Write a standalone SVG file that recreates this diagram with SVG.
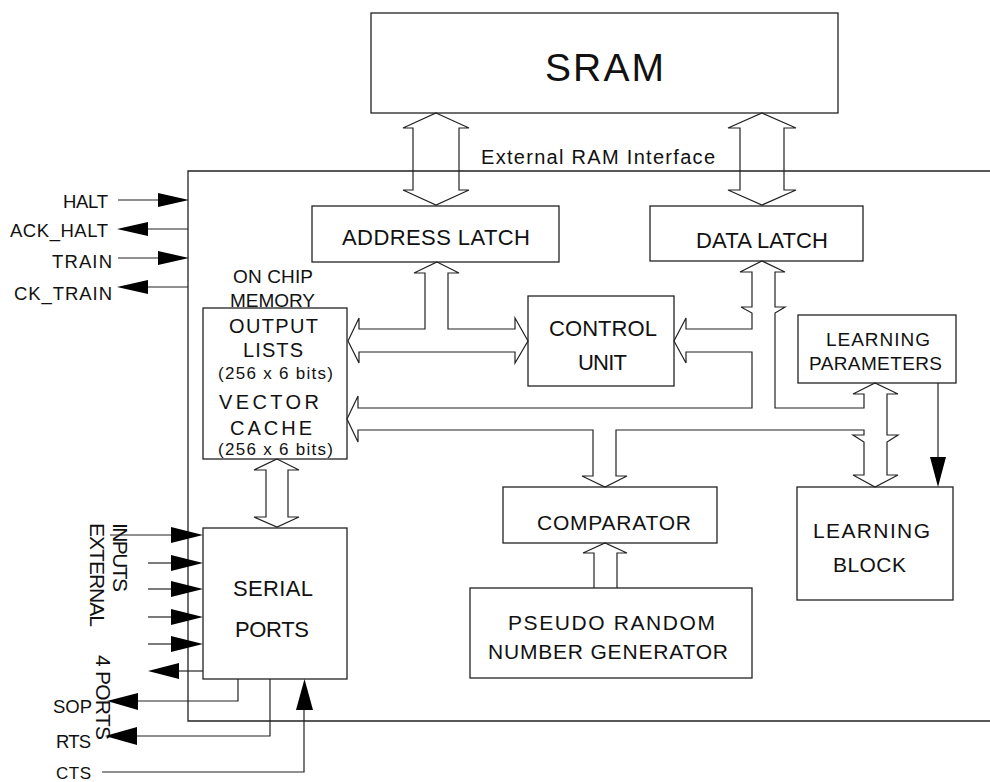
<svg xmlns="http://www.w3.org/2000/svg" width="990" height="782" viewBox="0 0 990 782">
<style>
.box{fill:none;stroke:#222;stroke-width:1.3}
.ln{fill:none;stroke:#222;stroke-width:1.2;stroke-linejoin:miter}
.hd{fill:#000;stroke:none}
.t{font-family:"Liberation Sans",Arial,sans-serif;fill:#111}
</style>
<rect width="990" height="782" fill="#fff"/>

<g id="sram">
<rect class="box" x="371" y="13" width="467" height="100"/>
<text class="t" x="545" y="81" font-size="39" textLength="119" lengthAdjust="spacing">SRAM</text>
</g>

<g id="chip">
<path class="box" d="M990,171 H188 V721 H990"/>
<text class="t" x="481" y="164" font-size="20" textLength="234" lengthAdjust="spacing">External RAM Interface</text>
</g>

<g id="address-latch">
<rect class="box" x="312" y="206" width="247" height="56"/>
<text class="t" x="342" y="245" font-size="22" textLength="188" lengthAdjust="spacing">ADDRESS LATCH</text>
</g>

<g id="data-latch">
<rect class="box" x="650" y="206" width="213" height="55"/>
<text class="t" x="696" y="248" font-size="22" textLength="132" lengthAdjust="spacing">DATA LATCH</text>
</g>

<g id="memory">
<text class="t" x="233" y="283" font-size="19" textLength="80" lengthAdjust="spacing">ON CHIP</text>
<text class="t" x="230" y="307" font-size="19" textLength="85" lengthAdjust="spacing">MEMORY</text>
<rect class="box" x="203" y="308" width="144" height="151"/>
<text class="t" x="229" y="333" font-size="20" textLength="89" lengthAdjust="spacing">OUTPUT</text>
<text class="t" x="243" y="357" font-size="20" textLength="60" lengthAdjust="spacing">LISTS</text>
<text class="t" x="218" y="379" font-size="17" textLength="115" lengthAdjust="spacing">(256 x 6 bits)</text>
<text class="t" x="219" y="409" font-size="20" textLength="100" lengthAdjust="spacing">VECTOR</text>
<text class="t" x="230" y="435" font-size="20" textLength="82" lengthAdjust="spacing">CACHE</text>
<text class="t" x="218" y="455" font-size="17" textLength="115" lengthAdjust="spacing">(256 x 6 bits)</text>
</g>

<g id="control-unit">
<rect class="box" x="528" y="296" width="146" height="90"/>
<text class="t" x="549" y="336" font-size="22" textLength="108" lengthAdjust="spacing">CONTROL</text>
<text class="t" x="578" y="370" font-size="22" textLength="49" lengthAdjust="spacing">UNIT</text>
</g>

<g id="learning-parameters">
<rect class="box" x="798" y="315" width="158" height="68"/>
<text class="t" x="826" y="346" font-size="19" textLength="104" lengthAdjust="spacing">LEARNING</text>
<text class="t" x="809" y="370" font-size="19" textLength="133" lengthAdjust="spacing">PARAMETERS</text>
</g>

<g id="learning-block">
<rect class="box" x="797" y="487" width="156" height="113"/>
<text class="t" x="813" y="538" font-size="21" textLength="117" lengthAdjust="spacing">LEARNING</text>
<text class="t" x="833" y="572" font-size="21" textLength="73" lengthAdjust="spacing">BLOCK</text>
</g>

<g id="comparator">
<rect class="box" x="503" y="487" width="214" height="56"/>
<text class="t" x="537" y="530" font-size="21" textLength="154" lengthAdjust="spacing">COMPARATOR</text>
</g>

<g id="prng">
<rect class="box" x="470" y="588" width="282" height="90"/>
<text class="t" x="508" y="630" font-size="21" textLength="207" lengthAdjust="spacing">PSEUDO RANDOM</text>
<text class="t" x="488" y="659" font-size="21" textLength="240" lengthAdjust="spacing">NUMBER GENERATOR</text>
</g>

<g id="serial-ports">
<rect class="box" x="203" y="528" width="144" height="151"/>
<text class="t" x="233" y="596" font-size="22" textLength="80" lengthAdjust="spacing">SERIAL</text>
<text class="t" x="235" y="637" font-size="22" textLength="74" lengthAdjust="spacing">PORTS</text>
</g>

<g id="signal-labels">
<text class="t" x="63" y="208" font-size="18.5" textLength="45" lengthAdjust="spacing">HALT</text>
<text class="t" x="10" y="237" font-size="18.5" textLength="98" lengthAdjust="spacing">ACK_HALT</text>
<text class="t" x="52" y="268" font-size="18.5" textLength="60" lengthAdjust="spacing">TRAIN</text>
<text class="t" x="14" y="300" font-size="18.5" textLength="98" lengthAdjust="spacing">CK_TRAIN</text>
<text class="t" x="53" y="713" font-size="18.5" textLength="39" lengthAdjust="spacing">SOP</text>
<text class="t" x="56" y="748" font-size="18.5" textLength="35" lengthAdjust="spacing">RTS</text>
<text class="t" x="56" y="779" font-size="17" textLength="35" lengthAdjust="spacing">CTS</text>
<text class="t" font-size="21" textLength="69" lengthAdjust="spacing" transform="translate(113,523) rotate(90)">INPUTS</text>
<text class="t" font-size="21" textLength="104" lengthAdjust="spacing" transform="translate(90,523) rotate(90)">EXTERNAL</text>
<text class="t" font-size="21" textLength="85" lengthAdjust="spacing" transform="translate(96,655) rotate(90)">4 PORTS</text>
</g>

<g id="connectors">
<path class="ln" d="M436,113 L469,128 H459 V190 H469 L436,205 L403,190 H413 V128 H403 Z"/>
<path class="ln" d="M762,113 L796,128 H784 V190 H796 L762,205 L728,190 H740 V128 H728 Z"/>
<path class="ln" d="M437,262 L459,273 H448 V329 H515 V318 L528,341 L515,363 V352 H359 V363 L348,341 L359,318 V329 H425 V273 H414 Z"/>
<path class="ln" d="M752,272 H740 L762,261 L785,272 H775 V307 H785 L775,313 V408 H864 V394 H853 L875,383 L898,394 H887 V435 H898 L887,442 V475 H898 L875,487 L853,475 H864 V442 L853,435 H864 V430 H616 V476 H627 L605,487 L582,476 H593 V430 H358 V442 L347,419 L358,396 V408 H752 V352 H686 V363 L674,341 L686,318 V329 H752 V313 L741,307 H752 Z"/>
<path class="ln" d="M277,459 L299,470 H288 V517 H299 L277,527 L254,517 H266 V470 H254 Z"/>
<path class="ln" d="M594,588 V553 H583 L605,543 L627,553 H617 V588"/>
<line class="ln" x1="938" y1="383" x2="938" y2="458"/>
<polygon class="hd" points="930,457 946,457 938,487"/>
<line class="ln" x1="118" y1="200" x2="160" y2="200"/>
<polygon class="hd" points="158,193 158,207 189,200"/>
<line class="ln" x1="188" y1="229" x2="146" y2="229"/>
<polygon class="hd" points="148,222 148,236 117,229"/>
<line class="ln" x1="118" y1="258" x2="160" y2="258"/>
<polygon class="hd" points="158,251 158,265 189,258"/>
<line class="ln" x1="188" y1="287" x2="146" y2="287"/>
<polygon class="hd" points="148,280 148,294 117,287"/>
<line class="ln" x1="110" y1="535" x2="173" y2="535"/>
<polygon class="hd" points="171,527 171,543 203,535"/>
<line class="ln" x1="148" y1="563" x2="173" y2="563"/>
<polygon class="hd" points="171,555 171,571 203,563"/>
<line class="ln" x1="148" y1="589" x2="173" y2="589"/>
<polygon class="hd" points="171,581 171,597 203,589"/>
<line class="ln" x1="148" y1="617" x2="173" y2="617"/>
<polygon class="hd" points="171,609 171,625 203,617"/>
<line class="ln" x1="148" y1="644" x2="173" y2="644"/>
<polygon class="hd" points="171,636 171,652 203,644"/>
<line class="ln" x1="203" y1="671" x2="177" y2="671"/>
<polygon class="hd" points="179,663 179,679 148,671"/>
<polyline class="ln" points="238,679 238,701 136,701"/>
<polygon class="hd" points="138,693 138,710 107,701"/>
<polyline class="ln" points="270,679 270,736 135,736"/>
<polygon class="hd" points="137,727 137,745 105,736"/>
<polyline class="ln" points="102,772 304,772 304,708"/>
<polygon class="hd" points="296,710 313,710 304.5,679"/>
</g>
</svg>
